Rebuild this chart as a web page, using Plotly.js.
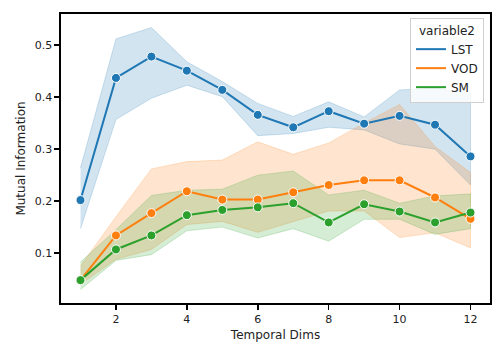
<!DOCTYPE html>
<html>
<head>
<meta charset="utf-8">
<script src="https://cdn.plot.ly/plotly-3.0.1.min.js"></script>
<style>html,body{margin:0;padding:0;background:#fff;}#chart{width:504px;height:360px;}</style>
</head>
<body>
<div id="chart"></div>
<script>
const dims = [1, 2, 3, 4, 5, 6, 7, 8, 9, 10, 11, 12];
const seriesNames = ["LST", "VOD", "SM"];
const lstMean = [0.202, 0.437, 0.478, 0.451, 0.414, 0.366, 0.342, 0.373, 0.349, 0.364, 0.347, 0.286];
const lstHigh = [0.264, 0.512, 0.534, 0.468, 0.430, 0.388, 0.363, 0.391, 0.362, 0.414, 0.417, 0.407];
const lstLow  = [0.147, 0.357, 0.398, 0.423, 0.401, 0.326, 0.330, 0.342, 0.337, 0.310, 0.300, 0.231];
const vodMean = [0.048, 0.134, 0.177, 0.219, 0.203, 0.203, 0.217, 0.231, 0.240, 0.240, 0.207, 0.166];
const vodHigh = [0.075, 0.170, 0.262, 0.276, 0.279, 0.314, 0.290, 0.312, 0.350, 0.386, 0.305, 0.255];
const vodLow  = [0.040, 0.088, 0.107, 0.155, 0.161, 0.140, 0.161, 0.181, 0.181, 0.130, 0.139, 0.110];
const smMean  = [0.048, 0.107, 0.134, 0.173, 0.183, 0.188, 0.196, 0.159, 0.194, 0.180, 0.159, 0.178];
const smHigh  = [0.083, 0.145, 0.211, 0.221, 0.223, 0.250, 0.258, 0.212, 0.221, 0.196, 0.210, 0.214];
const smLow   = [0.030, 0.086, 0.097, 0.143, 0.150, 0.129, 0.147, 0.123, 0.165, 0.165, 0.136, 0.147];

const colors = ["#1f77b4", "#ff7f0e", "#2ca02c"];
const fills = ["rgba(31,119,180,0.2)", "rgba(255,127,14,0.2)", "rgba(44,160,44,0.2)"];
const means = [lstMean, vodMean, smMean];
const highs = [lstHigh, vodHigh, smHigh];
const lows = [lstLow, vodLow, smLow];

const traces = [];
for (let i = 0; i < 3; i++) {
  traces.push({
    x: dims.concat(dims.slice().reverse()),
    y: highs[i].concat(lows[i].slice().reverse()),
    type: "scatter", mode: "lines", fill: "toself",
    fillcolor: fills[i],
    line: {color: fills[i], width: 1},
    hoverinfo: "skip", showlegend: false
  });
}
for (let i = 0; i < 3; i++) {
  traces.push({
    x: dims, y: means[i], name: seriesNames[i],
    type: "scatter", mode: "lines+markers",
    line: {color: colors[i], width: 2},
    marker: {color: colors[i], size: 9, line: {color: "#ffffff", width: 1}},
    showlegend: false
  });
}
// legend entries (line samples only, as in the reference)
for (let i = 0; i < 3; i++) {
  traces.push({
    x: [null], y: [null], name: seriesNames[i],
    type: "scatter", mode: "lines",
    line: {color: colors[i], width: 2},
    showlegend: true, hoverinfo: "skip"
  });
}

const layout = {
  width: 504, height: 360,
  margin: {l: 61, r: 14, t: 14, b: 57},
  paper_bgcolor: "#ffffff", plot_bgcolor: "#ffffff",
  font: {family: "DejaVu Sans", size: 11, color: "#222"},
  xaxis: {
    range: [0.45, 12.55], tickvals: [2, 4, 6, 8, 10, 12],
    showgrid: false, zeroline: false,
    showline: true, linecolor: "#000", linewidth: 1.6, mirror: true,
    ticks: "outside", ticklen: 5, tickwidth: 1.5, tickcolor: "#000",
    tickfont: {size: 11, color: "#222"},
    title: {text: "Temporal Dims", font: {size: 12, color: "#222"}, standoff: 6}
  },
  yaxis: {
    range: [0.004, 0.56], tickvals: [0.1, 0.2, 0.3, 0.4, 0.5],
    showgrid: false, zeroline: false,
    showline: true, linecolor: "#000", linewidth: 1.6, mirror: true,
    ticks: "outside", ticklen: 5, tickwidth: 1.5, tickcolor: "#000",
    tickfont: {size: 11, color: "#222"},
    title: {text: "Mutual Information", font: {size: 12, color: "#222"}, standoff: 6}
  },
  legend: {
    x: 0.986, y: 0.986, xanchor: "right", yanchor: "top",
    bgcolor: "rgba(255,255,255,0.8)", bordercolor: "#d0d0d0", borderwidth: 1,
    font: {size: 12, color: "#222"},
    title: {text: "variable2", side: "top center", font: {size: 12, color: "#222"}},
    itemwidth: 30, tracegroupgap: 0
  },
  showlegend: true
};

Plotly.newPlot("chart", traces, layout, {displayModeBar: false, staticPlot: true});
</script>
</body>
</html>
